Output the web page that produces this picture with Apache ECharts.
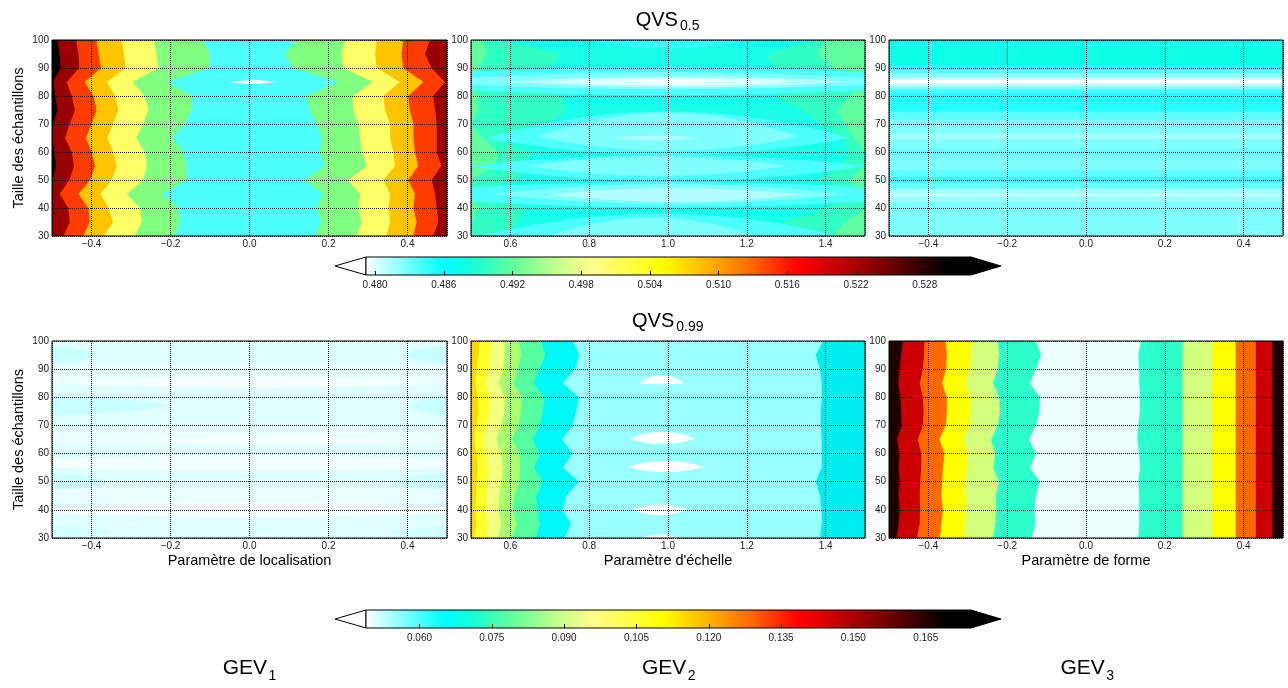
<!DOCTYPE html>
<html><head><meta charset="utf-8">
<script src="https://cdn.jsdelivr.net/npm/echarts@6/dist/echarts.min.js"></script>
<style>html,body{margin:0;padding:0;background:#fff}#c{width:1288px;height:688px}</style>
</head><body><div id="c"></div>
<script>
// ---------------- DATA ----------------
// rows of sample size (y), contour boundaries are given per row
const yRows = [100,95,90,85,80,75,70,65,60,55,50,45,40,35,30];

// QVS0.5 / GEV1 (location parameter): x position of each contour line per row
const tlB1 = [-0.486,-0.481,-0.478,-0.497,-0.492,-0.486,-0.497,-0.5,-0.494,-0.490,-0.498,-0.5,-0.5,-0.5,-0.5];
const tlB2 = [-0.439,-0.433,-0.431,-0.463,-0.450,-0.442,-0.455,-0.467,-0.450,-0.444,-0.456,-0.481,-0.459,-0.455,-0.471];
const tlB3 = [-0.387,-0.382,-0.376,-0.417,-0.395,-0.387,-0.400,-0.414,-0.400,-0.391,-0.404,-0.433,-0.408,-0.404,-0.421];
const tlB4 = [-0.324,-0.318,-0.313,-0.361,-0.340,-0.332,-0.346,-0.360,-0.345,-0.336,-0.349,-0.378,-0.357,-0.345,-0.370];
const tlB5 = [-0.242,-0.235,-0.231,-0.296,-0.265,-0.256,-0.269,-0.287,-0.265,-0.260,-0.269,-0.311,-0.277,-0.273,-0.290];
const tlB6 = [-0.117,-0.100,-0.102,-0.210,-0.144,-0.147,-0.163,-0.195,-0.168,-0.159,-0.159,-0.222,-0.180,-0.176,-0.189];
const tlB7 = [0.118,0.090,0.111,0.225,0.144,0.153,0.170,0.183,0.177,0.191,0.140,0.187,0.170,0.183,0.166];
const tlB8 = [0.242,0.233,0.238,0.312,0.261,0.263,0.276,0.280,0.284,0.297,0.250,0.280,0.276,0.284,0.271];
const tlB9 = [0.322,0.318,0.322,0.381,0.339,0.343,0.356,0.356,0.364,0.368,0.339,0.356,0.352,0.356,0.347];
const tlB10 = [0.389,0.385,0.389,0.440,0.402,0.406,0.415,0.415,0.419,0.427,0.402,0.419,0.415,0.423,0.415];
const tlB11 = [0.457,0.444,0.461,0.495,0.465,0.470,0.474,0.474,0.474,0.486,0.461,0.470,0.474,0.478,0.465];
// closed islands [xCentre, yCentre, halfWidth, heightUp, heightDown]
const tlIslands = [[0.008,85,0.057,0.7,0.7]];

// QVS0.5 / GEV2 (scale parameter)
const tmAquaL  = [0.57,0.73,0.70,0.50,0.73,0.74,0.70,0.56,0.65,0.65,0.62,0.50,0.64,0.62,0.58];
const tmGreenL = [0.53,0.54,0.52,0.50,0.52,0.52,0.50,0.53,0.57,0.56,0.50,0.50,0.52,0.50,0.50];
const tmAquaR  = [1.38,1.25,1.27,1.50,1.27,1.34,1.39,1.44,1.46,1.44,1.38,1.50,1.40,1.29,1.35];
const tmGreenR = [1.40,1.38,1.42,1.50,1.46,1.43,1.45,1.47,1.50,1.50,1.46,1.50,1.50,1.45,1.42];
const tmIslands = [
  [1.00,100,0.20,0,3],
  [1.00,85.3,0.85,5.2,5.0],[1.00,85.2,0.65,3.2,2.8],[1.03,85.1,0.44,1.9,2.0],[1.02,85.1,0.33,1.2,1.3],[1.02,85.2,0.16,0.5,0.4],
  [1.00,65,0.46,9.5,6],[1.00,55,0.50,4,5.5],[1.00,65.5,0.33,8.5,5],[0.975,55,0.33,3.5,3.5],[0.97,65,0.11,0.8,0.8],
  [1.00,45,0.75,4.3,4.8],[1.00,45,0.45,3.5,3.5],[1.02,44.8,0.32,2.3,2.6],
  [0.98,30,0.45,8,0],[0.96,30,0.26,6.5,0]
];

// QVS0.5 / GEV3 (shape parameter): nearly horizontal bands, top edge of each band
const trBands = [100,98.3,97.9,91.1,89.5,88.1,86.6,85.7,84.5,83.5,82.4,81.2,74.4,71.4,66.6,64.5,63.6,61.2,58.8,53.5,51.1,49.2,46.9,45.1,44.0,42.2];

// QVS0.99 / GEV1
const blIslands = [
  [-0.5,95,0.12,3,3],[0.5,95,0.12,3,3],[-0.5,77,0.30,3.5,3.5],[0.5,77,0.10,3.5,3.5],
  [-0.5,50,0.15,3,3],[0.5,50,0.15,3,3],[-0.5,32,0.15,2,2],[0.5,32,0.15,2,2],
  [0,89,0.9,3,6],[0,85.5,0.45,1.8,2],[0,66.5,0.85,3.5,4],[0.05,65,0.35,1.2,1.2],
  [0,56.5,0.75,2.8,2.8],[0,45,0.85,3.5,3.5],[0,40,0.65,2.5,2.5]
];

// QVS0.99 / GEV2
const bmB1 = [0.521,0.519,0.514,0.511,0.517,0.519,0.513,0.508,0.514,0.517,0.514,0.513,0.511,0.513,0.508];
const bmB2 = [0.551,0.551,0.545,0.538,0.548,0.547,0.542,0.531,0.538,0.545,0.542,0.538,0.538,0.542,0.538];
const bmB3 = [0.585,0.585,0.581,0.570,0.585,0.585,0.576,0.564,0.576,0.581,0.576,0.572,0.570,0.576,0.570];
const bmB4 = [0.623,0.627,0.619,0.608,0.630,0.627,0.621,0.604,0.623,0.625,0.623,0.610,0.606,0.616,0.604];
const bmB5 = [0.678,0.689,0.674,0.658,0.686,0.682,0.675,0.657,0.674,0.661,0.682,0.665,0.669,0.674,0.665];
const bmB6 = [0.758,0.775,0.763,0.733,0.774,0.767,0.758,0.731,0.758,0.733,0.774,0.742,0.733,0.754,0.737];
const bmB7 = [1.394,1.375,1.386,1.390,1.390,1.388,1.388,1.390,1.390,1.390,1.375,1.386,1.390,1.390,1.386];
const bmIslands = [[0.984,85,0.058,2.85,0.4],[0.986,65.3,0.082,2.4,2.0],[0.994,55.3,0.097,2.0,1.9],[0.98,40,0.069,1.9,1.9],[0.98,30,0.047,1.3,0]];

// QVS0.99 / GEV3
const brB1 = [-0.465,-0.469,-0.473,-0.476,-0.471,-0.469,-0.468,-0.480,-0.473,-0.475,-0.473,-0.475,-0.473,-0.475,-0.481];
const brB2 = [-0.410,-0.411,-0.414,-0.422,-0.414,-0.412,-0.414,-0.427,-0.418,-0.418,-0.421,-0.422,-0.421,-0.422,-0.429];
const brB3 = [-0.356,-0.353,-0.355,-0.365,-0.353,-0.353,-0.356,-0.372,-0.359,-0.363,-0.365,-0.367,-0.363,-0.367,-0.372];
const brB4 = [-0.294,-0.291,-0.296,-0.306,-0.294,-0.294,-0.296,-0.311,-0.300,-0.302,-0.306,-0.306,-0.304,-0.306,-0.308];
const brB5 = [-0.224,-0.220,-0.224,-0.236,-0.220,-0.218,-0.224,-0.241,-0.230,-0.235,-0.221,-0.230,-0.228,-0.230,-0.236];
const brB6 = [-0.127,-0.114,-0.127,-0.142,-0.117,-0.118,-0.127,-0.144,-0.127,-0.142,-0.117,-0.127,-0.131,-0.128,-0.139];
const brB7 = [0.139,0.133,0.135,0.135,0.137,0.137,0.133,0.130,0.135,0.137,0.133,0.135,0.135,0.135,0.133];
const brStraight = [0.245,0.321,0.380,0.431,0.473]; // vertical contour lines on the right

// colour bars
const cb1Range = [0.47921, 0.53204];
const cb1Ticks = [0.480,0.486,0.492,0.498,0.504,0.510,0.516,0.522,0.528];
const cb2Range = [0.0489, 0.1744];
const cb2Ticks = [0.060,0.075,0.090,0.105,0.120,0.135,0.150,0.165];

// ---------------- STYLE ----------------
const FONT = '"Liberation Sans", Arial, Helvetica, sans-serif';
const cmap = [[0,'#ffffff'],[0.129,'#00ffff'],[0.18,'#19ffd6'],[0.245,'#66ff99'],[0.32,'#c8ff8c'],[0.375,'#ffff8a'],
  [0.44,'#ffff40'],[0.49,'#ffff00'],[0.565,'#ffb400'],[0.64,'#ff6400'],[0.715,'#ff0000'],[0.81,'#a80000'],[0.89,'#500000'],[0.96,'#000000'],[1,'#000000']];
const tlColors = ['#000000','#990000','#ff3c00','#ffc400','#ffff66','#80ff80','#4dffff','#80ff80','#ffff66','#ffc400','#ff3c00','#990000'];
const tlIslandColors = ['#ffffff'];
const tmBase = '#1affea', tmAqua = '#33ffc4', tmGreen = '#60ffa0';
const tmIslandColors = ['#33ffff','#4dffff','#80ffff','#b3ffff','#e0ffff','#ffffff','#4dffff','#4dffff','#80ffff','#80ffff','#b3ffff','#4dffff','#80ffff','#b3ffff','#4dffff','#80ffff'];
const trColors = ['#0dffe8','#4dffff','#0dffe8','#2effff','#5cffff','#8cffff','#c0ffff','#ffffff','#c0ffff','#80ffff','#4dffff','#26ffff','#5cffff','#80ffff','#a0ffff','#80ffff','#80ffff','#66ffff','#80ffff','#5cffff','#33ffff','#66ffff','#a6ffff','#c8ffff','#99ffff','#80ffff'];
const blBase = '#e0ffff';
const blIslandColors = ['#c8ffff','#c8ffff','#c8ffff','#c8ffff','#ccffff','#ccffff','#d2ffff','#d2ffff','#eaffff','#f4ffff','#eaffff','#f8ffff','#f2ffff','#eaffff','#f8ffff'];
const bmColors = ['#ffd700','#ffff2a','#f2ff80','#aaff70','#55ffa0','#00f8f8','#99ffff','#00eeee'];
const bmIslandColors = ['#ffffff','#ffffff','#ffffff','#ffffff','#ffffff'];
const brColors = ['#1e0000','#cc0000','#ff6a00','#ffff00','#d4ff7a','#2bffcc','#eeffff','#2bffcc','#d4ff7a','#ffff00','#ff6a00','#cc0000','#1e0000'];

// ---------------- GEOMETRY BUILDERS (data space) ----------------
const Y0 = 30, Y1 = 100;
function vBands(bounds, colors, xmin, xmax) {
  const edges = [yRows.map(() => xmin)].concat(bounds);
  return colors.map((c, i) => {
    const pts = yRows.map((y, k) => [edges[i][k], y]);
    pts.push([xmax, Y0], [xmax, Y1]);
    return { pts, color: c };
  });
}
function edgePatch(b, xEdge, color) {
  const pts = yRows.map((y, k) => [b[k], y]);
  pts.push([xEdge, Y0], [xEdge, Y1]);
  return { pts, color };
}
function island(l, color) {
  const [xc, yc, w, hu, hd] = l, pts = [], n = 40;
  for (let i = 0; i <= n; i++) { const t = -1 + 2 * i / n; pts.push([xc + w * t, yc + hu * (1 - t * t)]); }
  for (let i = n; i >= 0; i--) { const t = -1 + 2 * i / n; pts.push([xc + w * t, yc - hd * (1 - t * t)]); }
  return { pts, color };
}
function full(xmin, xmax, color) { return { pts: [[xmin, Y1], [xmax, Y1], [xmax, Y0], [xmin, Y0]], color }; }
function hBands(tops, colors, xmin, xmax) {
  return colors.map((c, i) => ({ pts: [[xmin, tops[i]], [xmax, tops[i]], [xmax, Y0], [xmin, Y0]], color: c }));
}

const xRanges = [[-0.5,0.5],[0.5,1.5],[-0.5,0.5],[-0.5,0.5],[0.5,1.5],[-0.5,0.5]];
const panels = [];
panels.push(vBands([tlB1,tlB2,tlB3,tlB4,tlB5,tlB6,tlB7,tlB8,tlB9,tlB10,tlB11], tlColors, -0.5, 0.5)
  .concat(tlIslands.map((l, i) => island(l, tlIslandColors[i]))));
panels.push([full(0.5, 1.5, tmBase), edgePatch(tmAquaL, 0.5, tmAqua), edgePatch(tmAquaR, 1.5, tmAqua),
  edgePatch(tmGreenL, 0.5, tmGreen), edgePatch(tmGreenR, 1.5, tmGreen)]
  .concat(tmIslands.map((l, i) => island(l, tmIslandColors[i]))));
panels.push(hBands(trBands, trColors, -0.5, 0.5));
panels.push([full(-0.5, 0.5, blBase)].concat(blIslands.map((l, i) => island(l, blIslandColors[i]))));
panels.push(vBands([bmB1,bmB2,bmB3,bmB4,bmB5,bmB6,bmB7], bmColors, 0.5, 1.5)
  .concat(bmIslands.map((l, i) => island(l, bmIslandColors[i]))));
panels.push(vBands([brB1,brB2,brB3,brB4,brB5,brB6,brB7].concat(brStraight.map(v => yRows.map(() => v))), brColors, -0.5, 0.5));

// ---------------- OPTION ----------------
const grids = [
  {left:52, top:40, width:395, height:196}, {left:471, top:40, width:394, height:196}, {left:889, top:40, width:394, height:196},
  {left:52, top:341, width:395, height:197}, {left:471, top:341, width:394, height:197}, {left:889, top:341, width:394, height:197},
  {left:366, top:257, width:605, height:18}, {left:366, top:610, width:605, height:18}
];
const xNames = ['', '', '', 'Paramètre de localisation', "Paramètre d'échelle", 'Paramètre de forme'];
const gridLine = { show: true, lineStyle: { color: '#000', type: [1, 1], width: 1, opacity: 0.9 } };
const fmtX = v => (Math.abs(v) < 1e-9 ? 0 : v).toFixed(1).replace('-', '\u2212');

const xAxis = [], yAxis = [], series = [];
for (let i = 0; i < 6; i++) {
  xAxis.push({ gridIndex: i, type: 'value', min: xRanges[i][0], max: xRanges[i][1], splitNumber: 5, z: 5,
    axisLine: { show: false }, axisTick: { show: false },
    axisLabel: { showMinLabel: false, showMaxLabel: false, fontSize: 10, color: '#222', margin: 3, fontFamily: FONT, formatter: fmtX },
    splitLine: gridLine,
    name: xNames[i], nameLocation: 'middle', nameGap: 15,
    nameTextStyle: { fontSize: 14.5, color: '#000', fontFamily: FONT } });
  yAxis.push({ gridIndex: i, type: 'value', min: 30, max: 100, interval: 10, z: 5,
    axisLine: { show: false }, axisTick: { show: false },
    axisLabel: { fontSize: 10, color: '#222', margin: 3, fontFamily: FONT },
    splitLine: gridLine,
    name: (i % 3 === 0) ? 'Taille des échantillons' : '', nameLocation: 'middle', nameGap: 26,
    nameTextStyle: { fontSize: 14.5, color: '#000', fontFamily: FONT } });
  const shapes = panels[i];
  const xr = xRanges[i];
  series.push({ type: 'custom', xAxisIndex: i, yAxisIndex: i, clip: true, silent: true, animation: false, z: 2,
    data: shapes.map((s, k) => [s.pts[0][0], s.pts[0][1], k]),
    renderItem: (params, api) => {
      const s = shapes[params.dataIndex];
      return { type: 'polygon', shape: { points: s.pts.map(p => api.coord(p)) }, style: { fill: s.color } };
    } });
  series.push({ type: 'custom', xAxisIndex: i, yAxisIndex: i, clip: false, silent: true, animation: false, z: 6,
    data: [[xr[0], Y0]],
    renderItem: (params, api) => {
      const a = api.coord([xr[0], Y1]), b = api.coord([xr[1], Y0]);
      return { type: 'rect', shape: { x: a[0], y: a[1], width: b[0] - a[0], height: b[1] - a[1] },
        style: { fill: 'none', stroke: '#000', lineWidth: 1 } };
    } });
}
const grad = { type: 'linear', x: 0, y: 0, x2: 1, y2: 0, colorStops: cmap.map(([o, c]) => ({ offset: o, color: c })) };
[[cb1Range, cb1Ticks], [cb2Range, cb2Ticks]].forEach(([rng, ticks], j) => {
  const gi = 6 + j;
  xAxis.push({ gridIndex: gi, type: 'value', min: rng[0], max: rng[1], z: 5,
    axisLine: { show: false }, splitLine: { show: false },
    axisTick: { show: true, inside: true, length: 4, lineStyle: { color: '#000', width: 1 }, customValues: ticks },
    axisLabel: { customValues: ticks, formatter: v => v.toFixed(3), fontSize: 10, color: '#222', margin: 5, fontFamily: FONT } });
  yAxis.push({ gridIndex: gi, type: 'value', min: 0, max: 1, show: false });
  series.push({ type: 'custom', xAxisIndex: gi, yAxisIndex: gi, clip: false, silent: true, animation: false, z: 2,
    data: [[rng[0], 0]],
    renderItem: (params, api) => {
      const p0 = api.coord([rng[0], 0]), p1 = api.coord([rng[1], 1]);
      const x0 = p0[0], x1 = p1[0], yb = p0[1], yt = p1[1], ym = (yb + yt) / 2, tip = 31;
      return { type: 'group', children: [
        { type: 'polygon', shape: { points: [[x0, yt], [x0 - tip, ym], [x0, yb]] }, style: { fill: '#fff', stroke: '#000', lineWidth: 1 } },
        { type: 'polygon', shape: { points: [[x1, yt], [x1 + tip - 1, ym], [x1, yb]] }, style: { fill: '#000', stroke: '#000', lineWidth: 1 } },
        { type: 'rect', shape: { x: x0, y: yt, width: x1 - x0, height: yb - yt }, style: { fill: grad, stroke: '#000', lineWidth: 1 } }
      ] };
    } });
});

function txt(x, y, text, size) {
  return { type: 'text', x, y, silent: true,
    style: { text, fontSize: size, fontFamily: FONT, fill: '#000', align: 'left', verticalAlign: 'middle' } };
}
const graphic = [
  txt(635.7, 20.1, 'QVS', 20), txt(680, 25.7, '0.5', 14),
  txt(632, 321.1, 'QVS', 20), txt(676.3, 326.7, '0.99', 14),
  txt(222.7, 668.7, 'GEV', 21), txt(268.5, 676.2, '1', 14),
  txt(642, 668.7, 'GEV', 21), txt(687.8, 676.2, '2', 14),
  txt(1060.4, 668.7, 'GEV', 21), txt(1106.2, 676.2, '3', 14)
];

const chart = echarts.init(document.getElementById('c'), null, { renderer: 'canvas' });
chart.setOption({ animation: false, backgroundColor: '#fff', grid: grids, xAxis, yAxis, series, graphic });
</script></body></html>
